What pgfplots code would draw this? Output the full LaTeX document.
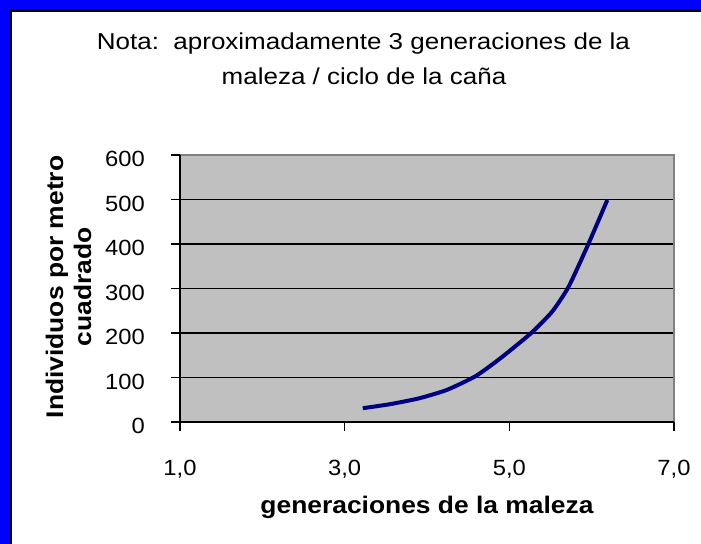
\documentclass[border=0pt]{standalone}
\usepackage{fontspec}
\setmainfont{Liberation Sans}
\newfontfamily\titlefont[FakeStretch=1.13]{Liberation Sans}
\newfontfamily\tickfont[FakeStretch=1.08]{Liberation Sans}
\newfontfamily\labfont[FakeStretch=1.1]{Liberation Sans}
\newcommand{\tk}[1]{{\tickfont\fontsize{22bp}{26bp}\selectfont #1}}
\usepackage{pgfplots}
\pgfplotsset{compat=1.18}
\definecolor{xlblue}{HTML}{0000FF}
\definecolor{xlgray}{HTML}{C0C0C0}
\definecolor{xlnavy}{HTML}{000080}
\definecolor{xlborder}{HTML}{808080}
\begin{document}
\begin{tikzpicture}[x=1bp,y=1bp]
% background and frame
\fill[white] (0,0) rectangle (701,544);
\fill[xlblue] (0,534.7) rectangle (701,544);
\fill[xlblue] (0,0) rectangle (9,544);
\fill[black] (9,532) rectangle (701,534.7);
\fill[black] (9,0) rectangle (11.5,534.7);
% title
\node[anchor=base, inner sep=0pt] at (363.5,494) {\titlefont\fontsize{23bp}{27bp}\selectfont Nota:\ \ aproximadamente 3 generaciones de la};
\node[anchor=base, inner sep=0pt] at (364,459) {\titlefont\fontsize{23bp}{27bp}\selectfont maleza / ciclo de la caña};
% y label
\node[anchor=base, inner sep=0pt, rotate=90] at (63,257) {\labfont\bfseries\fontsize{24bp}{28bp}\selectfont Individuos por metro};
\node[anchor=base, inner sep=0pt, rotate=90] at (91,257) {\labfont\bfseries\fontsize{24bp}{28bp}\selectfont cuadrado};
% x label
\node[anchor=base, inner sep=0pt] at (427,30) {\labfont\bfseries\fontsize{24bp}{28bp}\selectfont generaciones de la maleza};
\begin{axis}[
  at={(180bp,122bp)}, anchor=south west,
  scale only axis, width=494bp, height=267bp,
  xmin=1, xmax=7, ymin=0, ymax=600,
  xtick={1,3,5,7},
  xticklabels={\tk{1,0},\tk{3,0},\tk{5,0},\tk{7,0}},
  ytick={0,100,200,300,400,500,600},
  yticklabels={\tk{0},\tk{100},\tk{200},\tk{300},\tk{400},\tk{500},\tk{600}},
  tick pos=left,
  tick align=outside,
  major tick length=9bp,
  tick style={black, line width=1.5bp},
  ymajorgrids,
  grid style={black, line width=1.3bp},
  axis background/.style={fill=xlgray},
  axis line style={draw=none},
  xticklabel style={inner sep=0pt, anchor=north, yshift=-29bp},
  yticklabel style={inner sep=0pt, anchor=east, xshift=-26bp, yshift=-4bp},
  clip=false,
]
\addplot[xlnavy, line width=4bp, smooth, tension=0.35] coordinates {
  (3.22,31) (3.55,40) (3.90,53) (4.24,72) (4.59,103) (4.89,143)
  (5.26,199) (5.52,248) (5.72,304) (5.96,400) (6.19,499)
};
\draw[xlborder, line width=1.5bp] (rel axis cs:0,1) -- (rel axis cs:1,1) -- (rel axis cs:1,0);
\draw[black, line width=2bp] (rel axis cs:0,1) -- (rel axis cs:0,0) -- (rel axis cs:1,0);
\end{axis}
\end{tikzpicture}
\end{document}
